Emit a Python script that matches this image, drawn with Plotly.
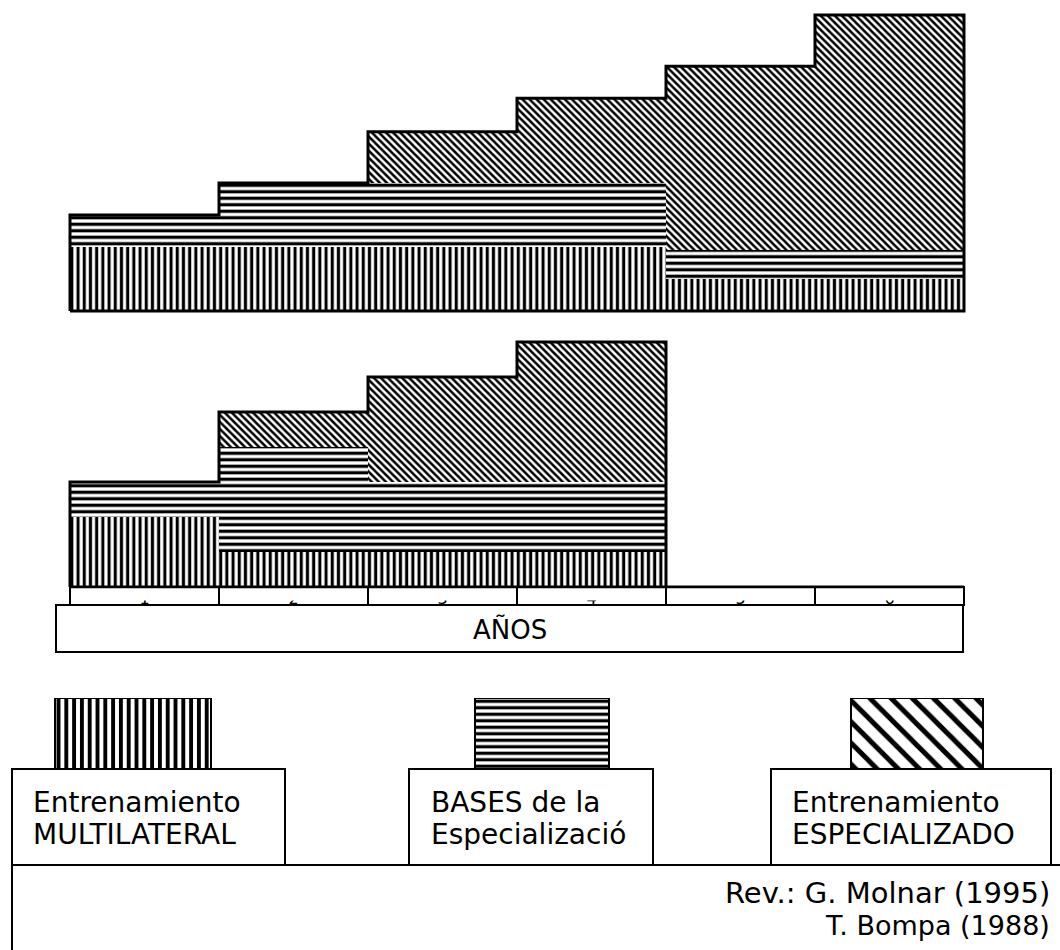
import plotly.graph_objects as go

# ---------------- data ----------------
YEARS = [1, 2, 3, 4, 5, 6]
YEAR_LABELS = ["1", "2", "3", "4", "5", "6"]
AXIS_TITLE = "AÑOS"
SERIES = ["Entrenamiento<br>MULTILATERAL",
          "BASES de la<br>Especializació",
          "Entrenamiento<br>ESPECIALIZADO"]
SOURCE = ["Rev.: G. Molnar (1995)", "T. Bompa (1988)"]

# upper staircase (relative units)
top_multilateral = [2, 2, 2, 2, 1, 1]
top_bases = [1, 2, 2, 2, 0.9, 0.9]
top_especializado = [0, 0, 1.6, 2.65, 5.75, 7.35]

# lower staircase (relative units)
low_multilateral = [2, 1, 1, 1, 0, 0]
low_bases = [1, 3, 2, 2, 0, 0]
low_especializado = [0, 1, 3, 4, 0, 0]

# ---------------- layout helpers ----------------
W, H = 1060, 950


def px(x):
    return x / W


def py(y):
    return 1 - y / H


FONT = "DejaVu Sans, Verdana, sans-serif"


def pat(shape, size, sol=0.5):
    return dict(shape=shape, size=size, solidity=sol, fgcolor="black", fgopacity=1,
                bgcolor="white", fillmode="overlay")


PAT_V = pat("|", 6.2)
PAT_H = pat("-", 6.5)
PAT_D = pat("\\", 5)

fig = go.Figure()


def add_stack(xa, ya, vals_m, vals_b, vals_e):
    for vals, p in ((vals_m, PAT_V), (vals_b, PAT_H), (vals_e, PAT_D)):
        fig.add_trace(go.Bar(x=YEARS, y=vals, xaxis=xa, yaxis=ya, width=1,
                             marker=dict(color="white", line=dict(width=0), pattern=p),
                             showlegend=False, hoverinfo="skip"))
    totals = [a + b + c for a, b, c in zip(vals_m, vals_b, vals_e)]
    xs, ys = [YEARS[0] - 0.5], [0]
    for x, t in zip(YEARS, totals):
        xs += [x - 0.5, x + 0.5]
        ys += [t, t]
    xs += [YEARS[-1] + 0.5, YEARS[0] - 0.5]
    ys += [0, 0]
    fig.add_trace(go.Scatter(x=xs, y=ys, xaxis=xa, yaxis=ya, mode="lines",
                             line=dict(color="black", width=3), cliponaxis=False,
                             showlegend=False, hoverinfo="skip"))


add_stack("x", "y", top_multilateral, top_bases, top_especializado)
add_stack("x2", "y2", low_multilateral, low_bases, low_especializado)

# year digits axis (dummy trace so the axis is drawn)
fig.add_trace(go.Scatter(x=YEARS, y=[0] * len(YEARS), xaxis="x4", yaxis="y4", mode="markers",
                         marker=dict(opacity=0), showlegend=False, hoverinfo="skip"))

# legend swatches
SWATCH_CX = [133, 542, 917]
SWATCH_W = [156, 134, 132]
fig.add_trace(go.Bar(x=SWATCH_CX, y=[1, 1, 1], width=SWATCH_W, xaxis="x3", yaxis="y3",
                     marker=dict(color="white", line=dict(color="black", width=2.5),
                                 pattern=dict(shape=["|", "-", "\\"], size=[7.8, 6.5, 15],
                                              solidity=[0.5, 0.5, 0.33], fgcolor="black",
                                              fgopacity=1, bgcolor="white", fillmode="overlay")),
                     showlegend=False, hoverinfo="skip"))

hidden = dict(visible=False, showgrid=False, zeroline=False, fixedrange=True)
PAD = 0.05            # axis padding in category units so outlines are not clipped
COLW = (964 - 70) / 6
XDOM = [px(70 - PAD * COLW), px(964 + PAD * COLW)]
XR = [0.5 - PAD, 6.5 + PAD]
YPAD = 0.2
fig.update_layout(
    width=W, height=H, margin=dict(l=0, r=0, t=0, b=0),
    paper_bgcolor="white", plot_bgcolor="rgba(0,0,0,0)",
    barmode="stack", bargap=0,
    font=dict(family=FONT, color="black"),
    xaxis=dict(domain=XDOM, range=XR, anchor="y", **hidden),
    yaxis=dict(domain=[py(311 + YPAD * 32), 1], range=[-YPAD, 311 / 32], anchor="x", **hidden),
    xaxis2=dict(domain=XDOM, range=XR, anchor="y2", **hidden),
    yaxis2=dict(domain=[py(587 + YPAD * 35), py(307)], range=[-YPAD, 8], anchor="x2", **hidden),
    xaxis3=dict(domain=[0, 1], range=[0, W], anchor="y3", **hidden),
    yaxis3=dict(domain=[py(769), py(698)], range=[0, 1], anchor="x3", **hidden),
    xaxis4=dict(domain=XDOM, range=XR, anchor="y4", visible=True, showgrid=False,
                zeroline=False, showline=False, ticks="", tickvals=YEARS, ticktext=YEAR_LABELS,
                tickfont=dict(size=16, color="black"), fixedrange=True),
    yaxis4=dict(domain=[py(587), py(560)], range=[0, 1], anchor="x4", **hidden),
)

shapes = []
LINE = dict(color="black", width=2)
# cover most of the year digits (they are cut off in the original)
shapes.append(dict(type="rect", xref="paper", yref="paper", x0=px(66), x1=px(968),
                   y0=py(600.5), y1=py(588.5), fillcolor="white", line=dict(width=0), layer="above"))
# year cells
for x in YEARS:
    shapes.append(dict(type="rect", xref="x2", yref="paper", x0=x - 0.5, x1=x + 0.5,
                       y0=py(605), y1=py(587), line=LINE, layer="above"))
# AÑOS box
shapes.append(dict(type="rect", xref="paper", yref="paper", x0=px(56), x1=px(963),
                   y0=py(652), y1=py(605), line=LINE, fillcolor="rgba(0,0,0,0)", layer="above"))
# label boxes
for x0, x1 in ((12, 285), (409, 653), (771, 1051)):
    shapes.append(dict(type="rect", xref="paper", yref="paper", x0=px(x0), x1=px(x1),
                       y0=py(865), y1=py(769), line=LINE, layer="above"))
# big source frame (top and left edges)
shapes.append(dict(type="line", xref="paper", yref="paper", x0=px(12), x1=1, y0=py(865), y1=py(865), line=LINE))
shapes.append(dict(type="line", xref="paper", yref="paper", x0=px(12), x1=px(12), y0=py(865), y1=0, line=LINE))
fig.update_layout(shapes=shapes)

ann = []
ann.append(dict(text=AXIS_TITLE, x=px(510), y=py(629), xref="paper", yref="paper",
                showarrow=False, font=dict(size=26), xanchor="center", yanchor="middle"))
LABEL_X = [31, 429, 790]
for lx, s in zip(LABEL_X, SERIES):
    l1, l2 = s.split("<br>")
    ann.append(dict(text=l1, x=px(lx), y=py(802), xref="paper", yref="paper", showarrow=False,
                    font=dict(size=28), xanchor="left", yanchor="middle"))
    ann.append(dict(text=l2, x=px(lx), y=py(834), xref="paper", yref="paper", showarrow=False,
                    font=dict(size=28), xanchor="left", yanchor="middle"))
SOURCE_SIZE = [29, 27]
for i, s in enumerate(SOURCE):
    ann.append(dict(text=s, x=px(1052), y=py(893 + 32 * i), xref="paper", yref="paper",
                    showarrow=False, font=dict(size=SOURCE_SIZE[i]), xanchor="right", yanchor="middle"))
fig.update_layout(annotations=ann)

fig.write_html("out.html", config={"displayModeBar": False},
               post_script="document.body.style.margin='0';")
